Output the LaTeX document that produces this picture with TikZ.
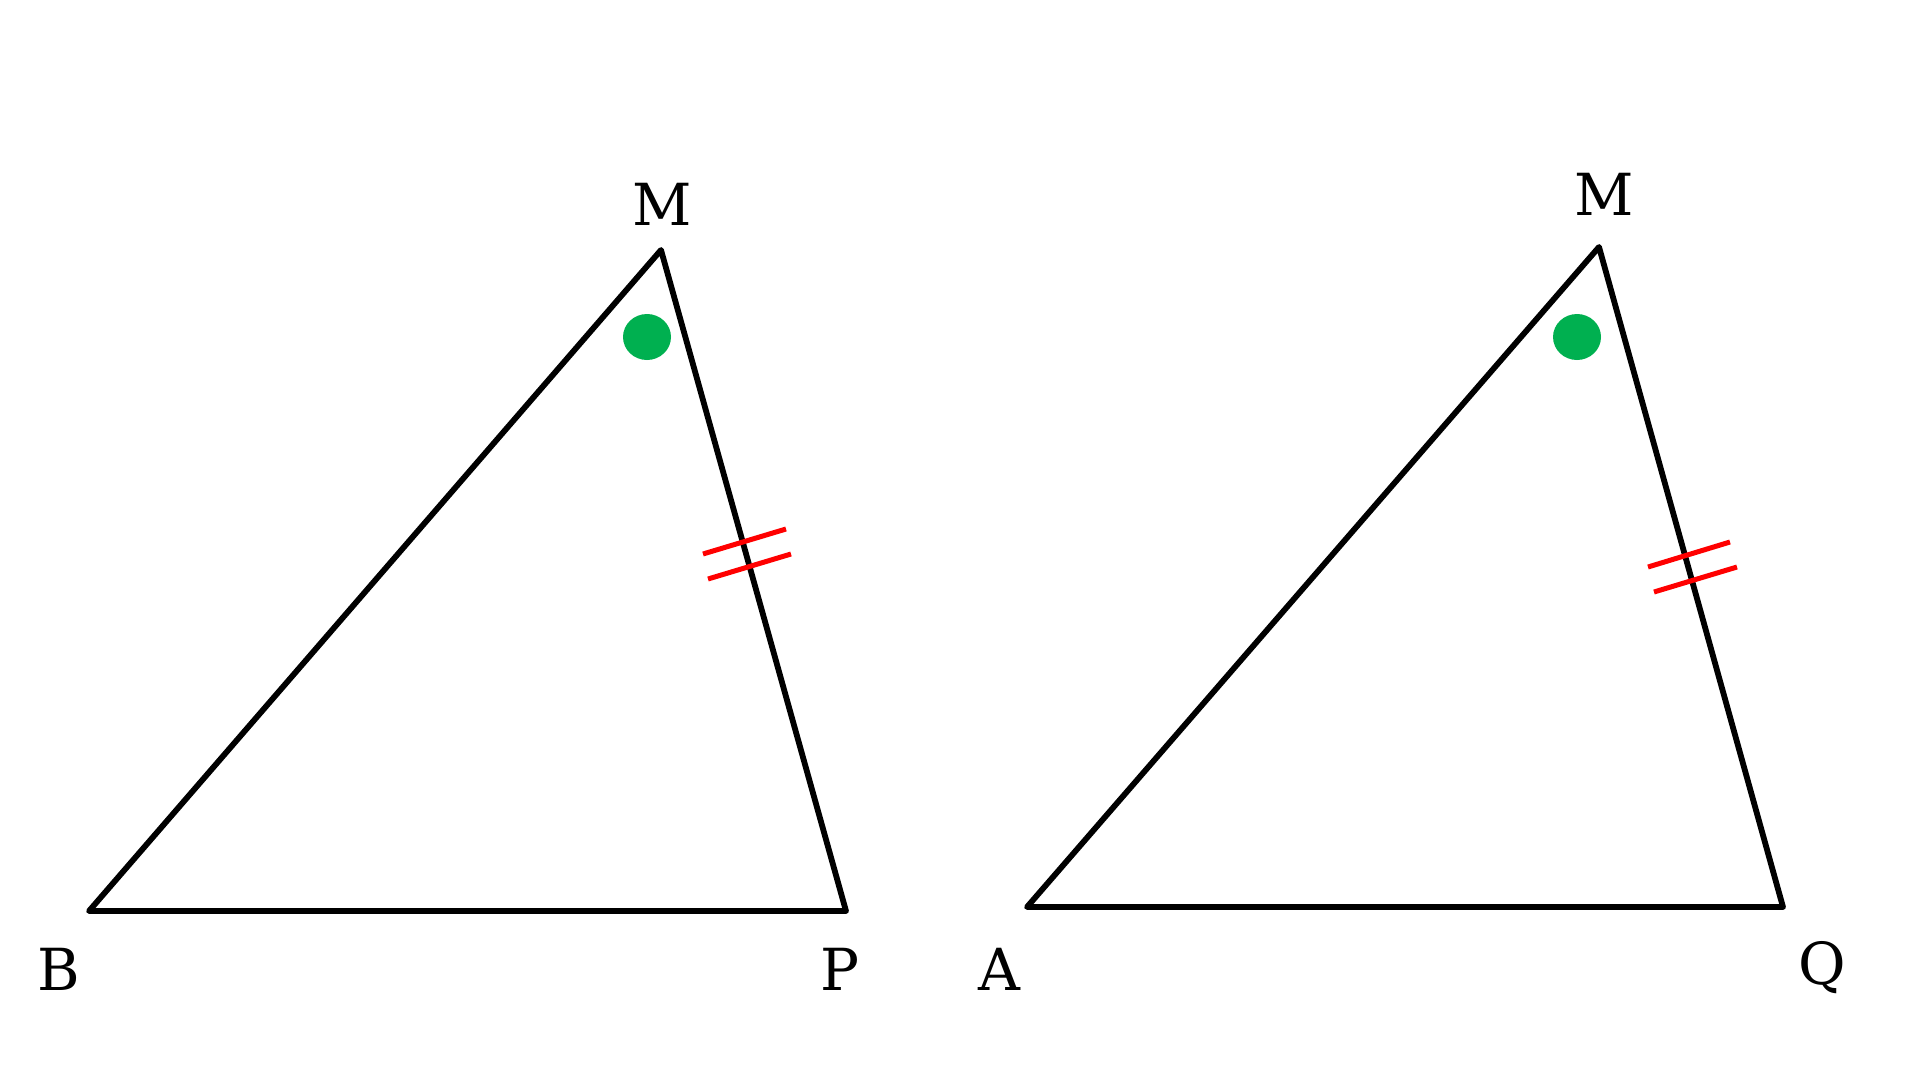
\documentclass[tikz,border=0pt]{standalone}
\usepackage{fontspec}
\setmainfont{DejaVu Serif}
\begin{document}
\begin{tikzpicture}[x=1pt,y=-1pt,
  edge/.style={line width=5.8pt,line join=round,line cap=butt},
  tick/.style={draw=red,line width=5pt},
  dot/.style={fill=dotgreen},
  lbl/.style={anchor=base,inner sep=0pt,font=\fontsize{58}{68}\selectfont}]
\definecolor{dotgreen}{HTML}{00B050}
\useasboundingbox[fill=white] (0,0) rectangle (1920,1080);
% left triangle
\coordinate (B) at (89,911);
\coordinate (M1) at (661,250);
\coordinate (P) at (846,911);
\draw[edge] (B) -- (M1) -- (P) -- cycle;
\node[lbl] (lB) at (59,990) {B};
\node[lbl] (lP) at (840,990) {P};
\node[lbl] (lM1) at (662,225) {M};
\fill[dot] (647,337) ellipse [x radius=24, y radius=23];
\coordinate (t1a) at (703,554); \coordinate (t1b) at (786,529);
\coordinate (t2a) at (708,579); \coordinate (t2b) at (791,554);
\draw[tick] (t1a) -- (t1b);
\draw[tick] (t2a) -- (t2b);
% right triangle
\coordinate (A) at (1027,907);
\coordinate (M2) at (1599,247);
\coordinate (Q) at (1783,907);
\draw[edge] (A) -- (M2) -- (Q) -- cycle;
\node[lbl] (lA) at (999,990) {A};
\node[lbl] (lQ) at (1822,984) {Q};
\node[lbl] (lM2) at (1604,215) {M};
\fill[dot] (1577,337) ellipse [x radius=24, y radius=23];
\coordinate (t3a) at (1648,567); \coordinate (t3b) at (1730,542);
\coordinate (t4a) at (1654,592); \coordinate (t4b) at (1737,567);
\draw[tick] (t3a) -- (t3b);
\draw[tick] (t4a) -- (t4b);
\end{tikzpicture}
\end{document}
